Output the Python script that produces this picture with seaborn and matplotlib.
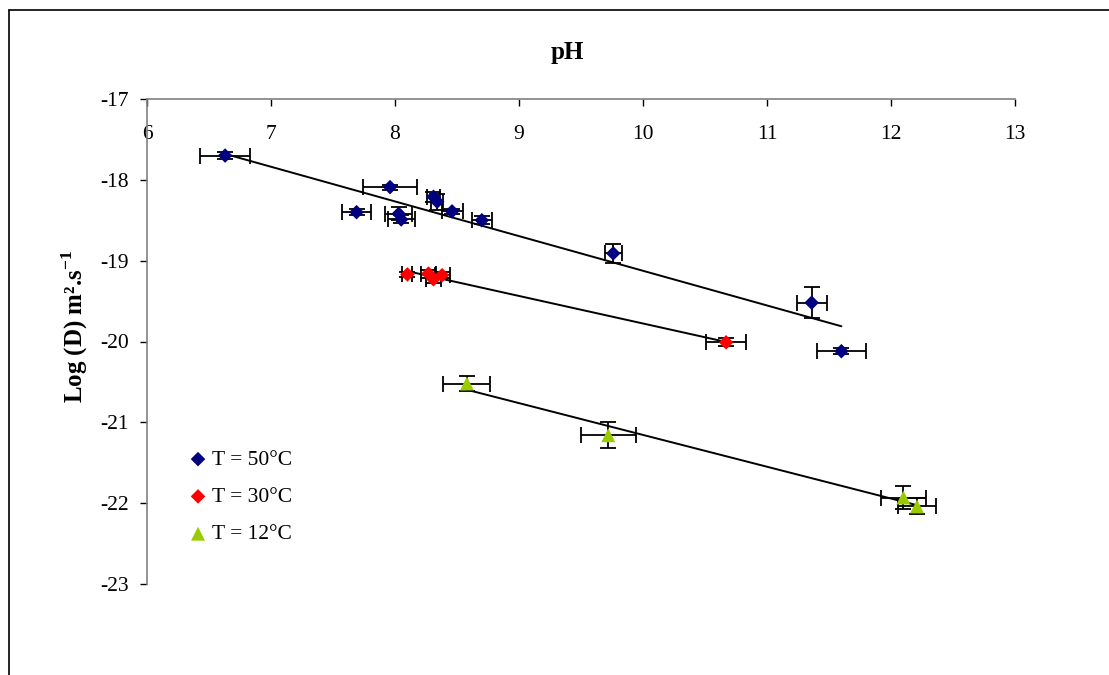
import numpy as np
import pandas as pd
import matplotlib
matplotlib.use("Agg")
import matplotlib.pyplot as plt
from matplotlib.lines import Line2D
import seaborn as sns

# data: pH, log(D), error bars
ph50 = [6.63, 7.96, 7.69, 8.03, 8.05, 8.31, 8.34, 8.46, 8.70, 9.76, 11.36, 11.60]
logd50 = [-17.70, -18.09, -18.40, -18.42, -18.49, -18.21, -18.27, -18.39, -18.50, -18.91, -19.52, -20.12]
xerr50 = [0.20, 0.22, 0.12, 0.11, 0.11, 0.05, 0.05, 0.085, 0.08, 0.07, 0.12, 0.20]
yerr50 = [0.04, 0.03, 0.04, 0.08, 0.05, 0.06, 0.10, 0.03, 0.05, 0.12, 0.19, 0.04]

ph30 = [8.10, 8.27, 8.31, 8.38, 10.67]
logd30 = [-19.17, -19.16, -19.23, -19.18, -20.01]
xerr30 = [0.04, 0.06, 0.06, 0.06, 0.16]
yerr30 = [0.03, 0.05, 0.05, 0.04, 0.05]

ph12 = [8.58, 9.72, 12.10, 12.21]
logd12 = [-20.52, -21.16, -21.93, -22.04]
xerr12 = [0.19, 0.22, 0.18, 0.15]
yerr12 = [0.09, 0.16, 0.14, 0.10]

labels = ["T = 50°C", "T = 30°C", "T = 12°C"]
colors = ["#000080", "#FF0000", "#99CC00"]
markers = ["D", "D", "^"]
sizes = [55, 55, 100]

sns.set_theme(style="white")
plt.rcParams["font.family"] = ["Liberation Serif", "DejaVu Serif"]
plt.rcParams["mathtext.fontset"] = "custom"
plt.rcParams["mathtext.rm"] = "Liberation Serif"
plt.rcParams["mathtext.bf"] = "Liberation Serif:bold"
plt.rcParams["text.color"] = "black"
plt.rcParams["xtick.color"] = "black"
plt.rcParams["ytick.color"] = "black"

fig = plt.figure(figsize=(11.09, 6.75), dpi=100)
ax = fig.add_axes([147/1109, 1-584/675, (1015-147)/1109, (584-99)/675])

series = [(ph50, logd50, xerr50, yerr50), (ph30, logd30, xerr30, yerr30), (ph12, logd12, xerr12, yerr12)]
for (x, y, xe, ye), lab, c, m, s in zip(series, labels, colors, markers, sizes):
    ax.errorbar(x, y, xerr=xe, yerr=ye, fmt="none", ecolor="black", elinewidth=1.3, capsize=5.5, capthick=1.3, zorder=2)
    df = pd.DataFrame({"pH": x, "logD": y})
    sns.regplot(data=df, x="pH", y="logD", ax=ax, scatter=False, ci=None, truncate=True,
                line_kws={"color": "black", "lw": 1.4, "zorder": 3})
    sns.scatterplot(data=df, x="pH", y="logD", ax=ax, marker=m, s=s, color=c, edgecolor="none", label=lab, zorder=4)

ax.set_xlim(6, 13)
ax.set_ylim(-23, -17)
ax.set_xticks(range(6, 14))
ax.set_yticks(range(-23, -16))
ax.set_yticklabels([str(v) for v in range(-23, -16)])
ax.set_xlabel("")
ax.set_ylabel("")

for side in ["right", "top"]:
    ax.spines[side].set_visible(False)
ax.spines["bottom"].set_position(("data", -17))
for side in ["left", "bottom"]:
    ax.spines[side].set_color("#808080")
    ax.spines[side].set_linewidth(1.2)
ax.tick_params(axis="x", direction="out", length=5, width=1, color="black", pad=14, labelsize=15.5, bottom=True)
ax.tick_params(axis="y", direction="out", length=5, width=1, color="black", pad=8, labelsize=15.5, left=True)

fig.text(567/1109, 1-52/675, "pH", ha="center", va="center", fontsize=18, fontweight="bold")
fig.text(75/1109, 1-326/675, r"Log (D) m².s$^{\mathbf{-1}}$", ha="center", va="center",
         rotation=90, fontsize=18, fontweight="bold")

ax.legend(loc="upper left", bbox_to_anchor=(0.029, 0.308), frameon=False, fontsize=15.5,
          handlelength=1.0, handletextpad=0.15, labelspacing=0.8, borderpad=0.2)

# outer chart border (top and left edges visible)
fig.add_artist(Line2D([9/1109, 9/1109], [0, 1-10/675], color="black", lw=1.2))
fig.add_artist(Line2D([9/1109, 1], [1-10/675, 1-10/675], color="black", lw=1.2))

fig.savefig("out.png", dpi=100)
